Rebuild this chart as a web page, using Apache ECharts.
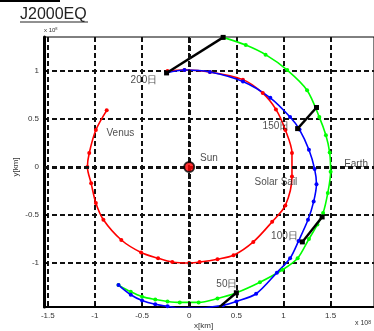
<!DOCTYPE html>
<html>
<head>
<meta charset="utf-8">
<script src="https://cdn.jsdelivr.net/npm/echarts@6/dist/echarts.min.js"></script>
<style>
  html, body { margin: 0; padding: 0; background: #fff; overflow: hidden; }
  #chart { width: 374px; height: 331px; }
</style>
</head>
<body>
<div id="chart"></div>
<script>
// orbit positions, x / y in 1e8 km
const venus = [
  [-0.875, 0.59], [-0.99, 0.385], [-1.06, 0.146], [-1.08, 0], [-1.04, -0.17], [-0.99, -0.375],
  [-0.91, -0.55], [-0.72, -0.76], [-0.51, -0.89], [-0.33, -0.95], [-0.18, -0.99], [0, -1.0],
  [0.11, -0.99], [0.3, -0.96], [0.47, -0.92], [0.68, -0.78], [0.88, -0.57], [1.02, -0.4],
  [1.09, -0.1], [1.09, 0.146], [1.02, 0.385], [0.92, 0.6], [0.78, 0.77], [0.57, 0.91],
  [0.22, 0.99], [-0.05, 1.01], [-0.23, 1.0]
]
const sail = [
  [-0.75, -1.23], [-0.62, -1.33], [-0.5, -1.39], [-0.36, -1.43], [-0.23, -1.45], [-0.1, -1.47],
  [0.1, -1.47], [0.22, -1.46], [0.36, -1.44], [0.5, -1.4], [0.71, -1.32], [0.93, -1.1],
  [1.07, -0.95], [1.16, -0.77], [1.26, -0.55], [1.32, -0.36], [1.35, -0.18], [1.33, -0.02],
  [1.27, 0.18], [1.17, 0.39], [1.07, 0.52], [0.86, 0.72], [0.57, 0.89], [0.22, 0.99],
  [-0.05, 1.01], [-0.24, 0.98]
]
const earth = [
  [-0.75, -1.23], [-0.62, -1.3], [-0.5, -1.35], [-0.36, -1.38], [-0.23, -1.4], [-0.1, -1.41],
  [0.1, -1.41], [0.3, -1.37], [0.5, -1.31], [0.75, -1.2], [0.99, -1.07], [1.15, -0.95],
  [1.27, -0.75], [1.36, -0.6], [1.42, -0.48], [1.47, -0.27], [1.5, -0.05], [1.49, 0.15],
  [1.45, 0.33], [1.38, 0.52], [1.25, 0.8], [1.04, 1.01], [0.81, 1.17], [0.6, 1.27], [0.36, 1.35]
]
const sun = [[0, 0]]

// sail -> earth at given days
const dayNames = ['50日', '100日', '150日', '200日']
const dayLines = [
  [[0.32, -1.46], [0.5, -1.31]],
  [[1.2, -0.78], [1.41, -0.52]],
  [[1.15, 0.4], [1.35, 0.62]],
  [[-0.24, 0.98], [0.36, 1.35]]
]
const dayLabelPos = [[0.4, -1.22], [1.01, -0.72], [0.92, 0.42], [-0.48, 0.9]]

const noteNames = ['Venus', 'Sun', 'Earth', 'Solar Sail']
const notePos = [[-0.73, 0.354], [0.21, 0.094], [1.77, 0.03], [0.92, -0.156]]

const xTicks = [-1.5, -1, -0.5, 0, 0.5, 1, 1.5]
const yTicks = [-1, -0.5, 0, 0.5, 1]

const font = '"Liberation Sans", Arial, sans-serif'
const gridDash = { color: '#111', width: 2, type: [5, 3] }

const orbit = (name, data, color) => ({
  name,
  type: 'line',
  data,
  smooth: 0.3,
  showSymbol: true,
  symbol: 'circle',
  symbolSize: 4,
  lineStyle: { color, width: 1.6 },
  itemStyle: { color },
  z: 3
})

const series = [
  orbit('Venus', venus, '#ff0000'),
  orbit('Earth', earth, '#00ff00'),
  orbit('Solar Sail', sail, '#0000ff'),
  {
    type: 'line',
    data: [],
    markLine: {
      silent: true,
      symbol: 'none',
      label: { show: false },
      lineStyle: { color: '#111', width: 3, type: [5, 3] },
      data: [{ xAxis: 0 }, { yAxis: 0 }]
    },
    z: 1
  },
  ...dayLines.map((seg, i) => ({
    name: dayNames[i],
    type: 'line',
    data: seg,
    symbol: 'rect',
    symbolSize: 5,
    lineStyle: { color: '#000', width: 2.4 },
    itemStyle: { color: '#000' },
    z: 4
  })),
  {
    type: 'scatter',
    symbolSize: 0,
    data: dayLabelPos.map((p, i) => ({ value: p, name: dayNames[i] })),
    label: {
      show: true, position: 'inside', formatter: '{b}',
      fontFamily: font, fontSize: 10, color: '#222'
    },
    z: 5
  },
  {
    type: 'scatter',
    symbolSize: 0,
    data: notePos.map((p, i) => ({ value: p, name: noteNames[i] })),
    label: {
      show: true, position: 'inside', formatter: '{b}',
      fontFamily: font, fontSize: 10, color: '#222'
    },
    z: 5
  },
  {
    type: 'scatter',
    data: sun,
    symbol: 'circle',
    symbolSize: 10,
    itemStyle: { color: '#ff0000', borderColor: '#000', borderWidth: 2 },
    z: 6
  }
]

const option = {
  animation: false,
  backgroundColor: '#fff',
  grid: {
    left: 44, top: 37, width: 336, height: 270,
    show: true, borderColor: '#000', borderWidth: 1
  },
  xAxis: {
    type: 'value',
    min: -1.54,
    max: 1.96,
    axisLine: { onZero: false, lineStyle: { color: '#000', width: 2 } },
    axisTick: { inside: true, length: 4, lineStyle: { color: '#000' }, customValues: xTicks },
    axisLabel: { customValues: xTicks, fontFamily: font, fontSize: 8, color: '#333', margin: 5 },
    splitLine: { show: true, lineStyle: gridDash }
  },
  yAxis: {
    type: 'value',
    min: -1.458,
    max: 1.354,
    axisLine: { show: true, onZero: false, lineStyle: { color: '#000', width: 3 } },
    axisTick: { inside: true, length: 4, lineStyle: { color: '#000' }, customValues: yTicks },
    axisLabel: { customValues: yTicks, fontFamily: font, fontSize: 8, color: '#333', margin: 5 },
    splitLine: { show: true, lineStyle: gridDash }
  },
  graphic: [
    { type: 'line', shape: { x1: 0, y1: 1, x2: 60, y2: 1 }, style: { stroke: '#000', lineWidth: 2 } },
    {
      type: 'text', left: 20, top: 7,
      style: { text: 'J2000EQ', font: '16px ' + font, fill: '#222' }
    },
    { type: 'line', shape: { x1: 20, y1: 22, x2: 88, y2: 22 }, style: { stroke: '#222', lineWidth: 1 } },
    {
      type: 'text', left: 44, top: 27,
      style: {
        text: '{a|x 10}{s|8}', fill: '#333',
        rich: { a: { fontSize: 6, fontFamily: font }, s: { fontSize: 4, fontFamily: font, verticalAlign: 'top' } }
      }
    },
    {
      type: 'text', left: 355, top: 320,
      style: {
        text: '{a|x 10}{s|8}', fill: '#333',
        rich: { a: { fontSize: 7, fontFamily: font }, s: { fontSize: 5, fontFamily: font, verticalAlign: 'top' } }
      }
    },
    {
      type: 'text', left: 194, top: 322,
      style: { text: 'x[km]', font: '8px ' + font, fill: '#333' }
    },
    {
      type: 'text', x: 16, y: 167, rotation: Math.PI / 2,
      style: { text: 'y[km]', font: '8px ' + font, fill: '#333', align: 'center', verticalAlign: 'middle' }
    }
  ],
  series
}

const chart = echarts.init(document.getElementById('chart'), null, { renderer: 'canvas' })
chart.setOption(option)
</script>
</body>
</html>
